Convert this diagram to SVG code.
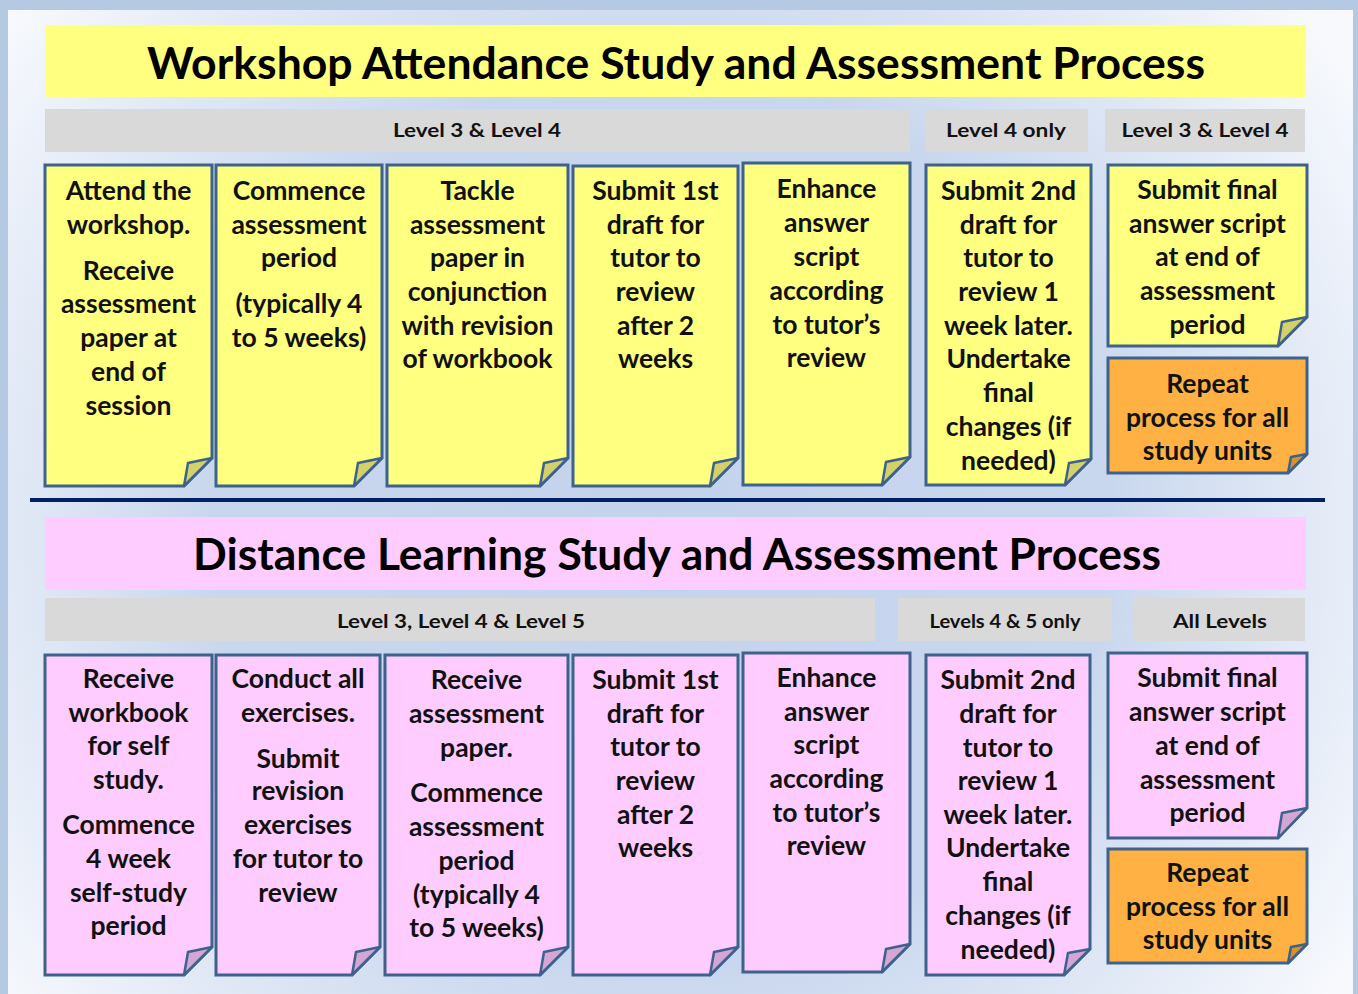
<svg xmlns="http://www.w3.org/2000/svg" width="1358" height="994" viewBox="0 0 1358 994">
<defs>
<radialGradient id="bg" cx="660" cy="520" r="820" gradientUnits="userSpaceOnUse">
<stop offset="0" stop-color="#c4d3ec"/>
<stop offset="0.55" stop-color="#c9d7ee"/>
<stop offset="1" stop-color="#f7f9fd"/>
</radialGradient>
<style>
.card{stroke:#3e628e;stroke-width:3;stroke-linejoin:miter}
.y{fill:#ffff80}.p{fill:#ffccff}.o{fill:#ffb144}
.fy{fill:#d4d06a}.fp{fill:#d4a6d4}.fo{fill:#d49232}
.fold{stroke:#3e628e;stroke-width:2.5;stroke-linejoin:round}
.t{font-family:Lato,"Liberation Sans",sans-serif;font-weight:bold;font-size:26.5px;text-anchor:middle;fill:#111}
.lv{font-family:Lato,"Liberation Sans",sans-serif;font-weight:bold;font-size:19px;text-anchor:middle;fill:#111}
.ttl{font-family:Lato,"Liberation Sans",sans-serif;font-weight:bold;font-size:43px;text-anchor:middle;fill:#000}
.bar{fill:#d9d9d9}
</style>
</defs>
<rect x="0" y="0" width="1358" height="994" fill="#b6c9e2"/>
<rect x="8" y="10" width="1345" height="984" fill="url(#bg)"/>

<g id="title-top">
<rect x="45" y="25" width="1261" height="72" fill="#ffff80"/>
<text class="ttl" x="676" y="79" textLength="1058" lengthAdjust="spacingAndGlyphs">Workshop Attendance Study and Assessment Process</text>
</g>
<g id="level-top-1"><rect class="bar" x="45" y="109" width="865" height="43"/><text class="lv" x="477" y="137" textLength="168" lengthAdjust="spacingAndGlyphs">Level 3 &amp; Level 4</text></g>
<g id="level-top-2"><rect class="bar" x="925" y="109" width="163" height="43"/><text class="lv" x="1006" y="137" textLength="120" lengthAdjust="spacingAndGlyphs">Level 4 only</text></g>
<g id="level-top-3"><rect class="bar" x="1105" y="109" width="200" height="43"/><text class="lv" x="1205" y="137" textLength="167" lengthAdjust="spacingAndGlyphs">Level 3 &amp; Level 4</text></g>

<g id="w1"><polygon class="card y" points="45,165 212,165 212,458 184,486 45,486"/><polygon class="fold fy" points="184,486 188,463 212,458"/>
<text class="t"><tspan x="128.5" y="200">Attend the</tspan><tspan x="128.5" y="234">workshop.</tspan><tspan x="128.5" y="280">Receive</tspan><tspan x="128.5" y="313">assessment</tspan><tspan x="128.5" y="347">paper at</tspan><tspan x="128.5" y="381">end of</tspan><tspan x="128.5" y="415">session</tspan></text></g>
<g id="w2"><polygon class="card y" points="216,165 382,165 382,458 354,486 216,486"/><polygon class="fold fy" points="354,486 358,463 382,458"/>
<text class="t"><tspan x="299" y="200">Commence</tspan><tspan x="299" y="234">assessment</tspan><tspan x="299" y="267">period</tspan><tspan x="299" y="313">(typically 4</tspan><tspan x="299" y="347">to 5 weeks)</tspan></text></g>
<g id="w3"><polygon class="card y" points="387,165 568,165 568,458 540,486 387,486"/><polygon class="fold fy" points="540,486 544,463 568,458"/>
<text class="t"><tspan x="477.5" y="200">Tackle</tspan><tspan x="477.5" y="234">assessment</tspan><tspan x="477.5" y="267">paper in</tspan><tspan x="477.5" y="301">conjunction</tspan><tspan x="477.5" y="335">with revision</tspan><tspan x="477.5" y="368">of workbook</tspan></text></g>
<g id="w4"><polygon class="card y" points="573,166 738,166 738,458 710,486 573,486"/><polygon class="fold fy" points="710,486 714,463 738,458"/>
<text class="t"><tspan x="655.5" y="200">Submit 1st</tspan><tspan x="655.5" y="234">draft for</tspan><tspan x="655.5" y="267">tutor to</tspan><tspan x="655.5" y="301">review</tspan><tspan x="655.5" y="335">after 2</tspan><tspan x="655.5" y="368">weeks</tspan></text></g>
<g id="w5"><polygon class="card y" points="743,163 910,163 910,457 882,485 743,485"/><polygon class="fold fy" points="882,485 886,462 910,457"/>
<text class="t"><tspan x="826.5" y="198">Enhance</tspan><tspan x="826.5" y="232">answer</tspan><tspan x="826.5" y="266">script</tspan><tspan x="826.5" y="300">according</tspan><tspan x="826.5" y="334">to tutor’s</tspan><tspan x="826.5" y="367">review</tspan></text></g>
<g id="w6"><polygon class="card y" points="926,165 1091,165 1091,459 1065,485 926,485"/><polygon class="fold fy" points="1065,485 1069,463 1091,459"/>
<text class="t"><tspan x="1008.5" y="200">Submit 2nd</tspan><tspan x="1008.5" y="234">draft for</tspan><tspan x="1008.5" y="267">tutor to</tspan><tspan x="1008.5" y="301">review 1</tspan><tspan x="1008.5" y="335">week later.</tspan><tspan x="1008.5" y="368">Undertake</tspan><tspan x="1008.5" y="402">final</tspan><tspan x="1008.5" y="436">changes (if</tspan><tspan x="1008.5" y="470">needed)</tspan></text></g>
<g id="w7"><polygon class="card y" points="1108,165 1307,165 1307,317 1278,346 1108,346"/><polygon class="fold fy" points="1278,346 1282,322 1307,317"/>
<text class="t"><tspan x="1207.5" y="199">Submit final</tspan><tspan x="1207.5" y="233">answer script</tspan><tspan x="1207.5" y="266">at end of</tspan><tspan x="1207.5" y="300">assessment</tspan><tspan x="1207.5" y="334">period</tspan></text></g>
<g id="w8"><polygon class="card o" points="1108,358 1307,358 1307,454 1288,473 1108,473"/><polygon class="fold fo" points="1288,473 1291,457 1307,454"/>
<text class="t"><tspan x="1207.5" y="393">Repeat</tspan><tspan x="1207.5" y="427">process for all</tspan><tspan x="1207.5" y="460">study units</tspan></text></g>

<g id="separator"><line x1="30" y1="500" x2="1325" y2="500" stroke="#002060" stroke-width="4"/></g>

<g id="title-bottom">
<rect x="45" y="517" width="1261" height="73" fill="#ffccff"/>
<text class="ttl" x="677" y="570" textLength="968" lengthAdjust="spacingAndGlyphs">Distance Learning Study and Assessment Process</text>
</g>
<g id="level-bot-1"><rect class="bar" x="45" y="598" width="830" height="43"/><text class="lv" x="461" y="628" textLength="248" lengthAdjust="spacingAndGlyphs">Level 3, Level 4 &amp; Level 5</text></g>
<g id="level-bot-2"><rect class="bar" x="898" y="598" width="214" height="43"/><text class="lv" x="1005" y="628" textLength="151" lengthAdjust="spacingAndGlyphs">Levels 4 &amp; 5 only</text></g>
<g id="level-bot-3"><rect class="bar" x="1133" y="598" width="172" height="43"/><text class="lv" x="1220" y="628" textLength="94" lengthAdjust="spacingAndGlyphs">All Levels</text></g>

<g id="d1"><polygon class="card p" points="45,655 212,655 212,947 184,975 45,975"/><polygon class="fold fp" points="184,975 188,952 212,947"/>
<text class="t"><tspan x="128.5" y="688">Receive</tspan><tspan x="128.5" y="722">workbook</tspan><tspan x="128.5" y="755">for self</tspan><tspan x="128.5" y="789">study.</tspan><tspan x="128.5" y="834">Commence</tspan><tspan x="128.5" y="868">4 week</tspan><tspan x="128.5" y="902">self-study</tspan><tspan x="128.5" y="935">period</tspan></text></g>
<g id="d2"><polygon class="card p" points="216,655 380,655 380,947 352,975 216,975"/><polygon class="fold fp" points="352,975 356,952 380,947"/>
<text class="t"><tspan x="298" y="688">Conduct all</tspan><tspan x="298" y="722">exercises.</tspan><tspan x="298" y="768">Submit</tspan><tspan x="298" y="800">revision</tspan><tspan x="298" y="834">exercises</tspan><tspan x="298" y="868">for tutor to</tspan><tspan x="298" y="902">review</tspan></text></g>
<g id="d3"><polygon class="card p" points="385,655 568,655 568,947 540,975 385,975"/><polygon class="fold fp" points="540,975 544,952 568,947"/>
<text class="t"><tspan x="476.5" y="689">Receive</tspan><tspan x="476.5" y="723">assessment</tspan><tspan x="476.5" y="757">paper.</tspan><tspan x="476.5" y="802">Commence</tspan><tspan x="476.5" y="836">assessment</tspan><tspan x="476.5" y="870">period</tspan><tspan x="476.5" y="904">(typically 4</tspan><tspan x="476.5" y="937">to 5 weeks)</tspan></text></g>
<g id="d4"><polygon class="card p" points="573,655 738,655 738,947 710,975 573,975"/><polygon class="fold fp" points="710,975 714,952 738,947"/>
<text class="t"><tspan x="655.5" y="689">Submit 1st</tspan><tspan x="655.5" y="723">draft for</tspan><tspan x="655.5" y="756">tutor to</tspan><tspan x="655.5" y="790">review</tspan><tspan x="655.5" y="824">after 2</tspan><tspan x="655.5" y="857">weeks</tspan></text></g>
<g id="d5"><polygon class="card p" points="743,653 910,653 910,944 882,972 743,972"/><polygon class="fold fp" points="882,972 886,949 910,944"/>
<text class="t"><tspan x="826.5" y="687">Enhance</tspan><tspan x="826.5" y="721">answer</tspan><tspan x="826.5" y="754">script</tspan><tspan x="826.5" y="788">according</tspan><tspan x="826.5" y="822">to tutor’s</tspan><tspan x="826.5" y="855">review</tspan></text></g>
<g id="d6"><polygon class="card p" points="926,655 1090,655 1090,949 1064,975 926,975"/><polygon class="fold fp" points="1064,975 1068,953 1090,949"/>
<text class="t"><tspan x="1008" y="689">Submit 2nd</tspan><tspan x="1008" y="723">draft for</tspan><tspan x="1008" y="757">tutor to</tspan><tspan x="1008" y="790">review 1</tspan><tspan x="1008" y="824">week later.</tspan><tspan x="1008" y="857">Undertake</tspan><tspan x="1008" y="891">final</tspan><tspan x="1008" y="925">changes (if</tspan><tspan x="1008" y="959">needed)</tspan></text></g>
<g id="d7"><polygon class="card p" points="1108,653 1307,653 1307,808 1278,838 1108,838"/><polygon class="fold fp" points="1278,838 1282,813 1307,808"/>
<text class="t"><tspan x="1207.5" y="687">Submit final</tspan><tspan x="1207.5" y="721">answer script</tspan><tspan x="1207.5" y="755">at end of</tspan><tspan x="1207.5" y="789">assessment</tspan><tspan x="1207.5" y="822">period</tspan></text></g>
<g id="d8"><polygon class="card o" points="1108,849 1307,849 1307,944 1288,963 1108,963"/><polygon class="fold fo" points="1288,963 1291,947 1307,944"/>
<text class="t"><tspan x="1207.5" y="882">Repeat</tspan><tspan x="1207.5" y="916">process for all</tspan><tspan x="1207.5" y="949">study units</tspan></text></g>
<g id="connectors"/>
</svg>
